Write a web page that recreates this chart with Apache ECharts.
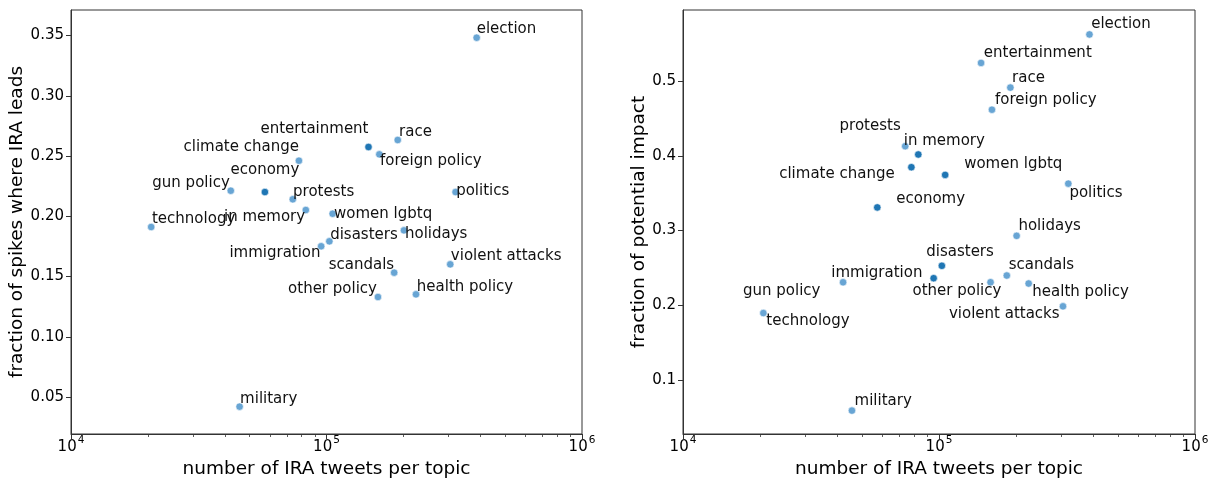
<!DOCTYPE html>
<html>
<head>
<meta charset="utf-8">
<script src="https://cdn.jsdelivr.net/npm/echarts@6/dist/echarts.min.js"></script>
<style>
html,body{margin:0;padding:0;background:#fff;}
#chart{width:1211px;height:479px;}
</style>
</head>
<body>
<div id="chart"></div>
<script>
// ---------- data ----------
const topics = ["election","entertainment","race","foreign policy","climate change","gun policy","economy","protests","in memory","women lgbtq","technology","holidays","politics","disasters","immigration","violent attacks","scandals","other policy","health policy","military"];
const tweetsPerTopic = [387000,146000,190000,161000,78000,42200,57400,73800,83000,105700,20600,201000,320000,102600,95300,305000,184000,159000,224000,45700];
const leadFraction = [0.3482,0.2575,0.2633,0.2514,0.2461,0.2212,0.2201,0.2141,0.2052,0.2021,0.1911,0.1883,0.2201,0.1792,0.1751,0.1601,0.1532,0.1330,0.1352,0.0420];
const impactFraction = [0.5623,0.5242,0.4912,0.4616,0.3847,0.2308,0.3309,0.4128,0.4017,0.3744,0.1896,0.2929,0.3627,0.2528,0.2362,0.1986,0.2398,0.2308,0.2291,0.0591];
const leadTicks = [0.05,0.10,0.15,0.20,0.25,0.30,0.35];
const impactTicks = [0.1,0.2,0.3,0.4,0.5];

// ---------- styling / layout ----------
const darkLeft = ["entertainment","economy"];
const darkRight = ["in memory","climate change","women lgbtq","economy","disasters","immigration"];
// label placement: [align, dx, dy] relative to point centre (px)
const labelLeft = {
  "election":["left",0,-8.4],"entertainment":["right",0,-18.3],"race":["left",1.4,-8],
  "foreign policy":["left",0.7,7],"climate change":["right",0,-13.4],"gun policy":["right",-1,-7.7],
  "economy":["center",0,-22],"protests":["left",0.3,-7.6],"in memory":["right",-0.7,7.3],
  "women lgbtq":["left",1.4,0],"technology":["left",0.8,-8],"holidays":["left",1,3.4],
  "politics":["left",0.6,-0.7],"disasters":["left",0.8,-6],"immigration":["right",-0.6,7],
  "violent attacks":["left",0.6,-8.3],"scandals":["right",0,-8],"other policy":["right",-1,-8],
  "health policy":["left",0.8,-7.6],"military":["left",0.5,-7.7]
};
const labelRight = {
  "election":["left",1.7,-10],"entertainment":["left",2.7,-10],"race":["left",1.7,-9.3],
  "foreign policy":["left",3,-10],"protests":["right",-4.5,-19.8],"in memory":["left",-14.5,-13.4],
  "climate change":["right",-16.7,7.4],"women lgbtq":["left",19,-10.4],"politics":["left",1.1,9],
  "economy":["left",19,-8.7],"holidays":["left",1.8,-9.8],"disasters":["left",-15.6,-14.1],
  "gun policy":["right",-22.6,9.3],"immigration":["right",-11.2,-5.4],"other policy":["right",10.8,9.3],
  "scandals":["left",1.9,-10],"health policy":["left",3.7,8.5],"violent attacks":["right",-3.4,8],
  "technology":["left",3,8],"military":["left",2.6,-9.6]
};

const FONT = "DejaVu Sans";
const LIGHT = "#68a5d4";
const DARK = "#1f76b4";
const AXC = "#333333";

function minorLogTicks(){
  const out = [];
  for (let e = 4; e < 6; e++) for (let m = 2; m <= 9; m++) out.push(Math.log10(m) + e);
  return out;
}

function makeSeriesData(yVals, dark, layout){
  return topics.map((t,i)=>{
    const l = layout[t];
    return {
      name: t,
      value: [tweetsPerTopic[i], yVals[i]],
      itemStyle: {color: dark.indexOf(t) >= 0 ? DARK : LIGHT},
      label: {align: l[0], offset: [l[1], l[2]]}
    };
  });
}

const grids = [
  {left:71, top:10, width:511, height:424},
  {left:683, top:10, width:512, height:424}
];

function xAxes(gi){
  return [
    {
      type:'log', logBase:10, min:1e4, max:1e6, gridIndex:gi, position:'bottom',
      name:'number of IRA tweets per topic', nameLocation:'middle', nameGap:17,
      nameTextStyle:{fontFamily:FONT, fontSize:18.5, color:'#000', verticalAlign:'top'},
      axisLine:{show:true, lineStyle:{color:AXC, width:1}},
      axisTick:{show:true, inside:false, length:5, lineStyle:{color:AXC, width:1}},
      splitLine:{show:false},
      axisLabel:{
        margin:1, color:'#000',
        formatter: v => '{b|10}{s|' + Math.round(Math.log10(v)) + '}',
        rich:{
          b:{fontFamily:FONT, fontSize:15, color:'#000', lineHeight:20, verticalAlign:'bottom'},
          s:{fontFamily:FONT, fontSize:10.5, color:'#000', lineHeight:20, verticalAlign:'top', padding:[0,0,0,1]}
        }
      }
    },
    {
      type:'value', min:4, max:6, gridIndex:gi, position:'bottom', silent:true,
      axisLine:{show:false},
      axisTick:{show:true, inside:false, length:3, customValues:minorLogTicks(), lineStyle:{color:AXC, width:0.8}},
      axisLabel:{show:false},
      splitLine:{show:false}
    }
  ];
}

function yAxis(gi, min, max, ticks, dec, name, gap){
  return {
    type:'value', min:min, max:max, gridIndex:gi, position:'left',
    name:name, nameLocation:'middle', nameGap:gap,
    nameTextStyle:{fontFamily:FONT, fontSize:18.5, color:'#000'},
    axisLine:{show:true, lineStyle:{color:AXC, width:1}},
    axisTick:{show:true, inside:false, length:5, customValues:ticks, lineStyle:{color:AXC, width:1}},
    axisLabel:{margin:7, customValues:ticks, fontFamily:FONT, fontSize:15, color:'#000', formatter: v => v.toFixed(dec)},
    splitLine:{show:false}
  };
}

const labelBase = {
  show:true, position:'inside', verticalAlign:'middle',
  formatter: p => p.name, fontFamily:FONT, fontSize:15, color:'#111'
};

const option = {
  backgroundColor:'#fff',
  animation:false,
  grid: grids.map(g => Object.assign({show:true, borderColor:AXC, borderWidth:1, backgroundColor:'transparent', containLabel:false, outerBoundsMode:'none'}, g)),
  xAxis: [].concat(xAxes(0), xAxes(1)),
  yAxis: [
    yAxis(0, 0.0193, 0.3712, leadTicks, 2, 'fraction of spikes where IRA leads', 40),
    yAxis(1, 0.0278, 0.595, impactTicks, 1, 'fraction of potential impact', 30)
  ],
  series: [
    {
      type:'scatter', xAxisIndex:0, yAxisIndex:0, symbolSize:7.5,
      itemStyle:{borderColor:'#fff', borderWidth:0.6, opacity:1},
      label:labelBase,
      data: makeSeriesData(leadFraction, darkLeft, labelLeft)
    },
    {
      type:'scatter', xAxisIndex:2, yAxisIndex:1, symbolSize:7.5,
      itemStyle:{borderColor:'#fff', borderWidth:0.6, opacity:1},
      label:labelBase,
      data: makeSeriesData(impactFraction, darkRight, labelRight)
    }
  ]
};

const chart = echarts.init(document.getElementById('chart'), null, {renderer:'canvas'});
chart.setOption(option);
</script>
</body>
</html>
